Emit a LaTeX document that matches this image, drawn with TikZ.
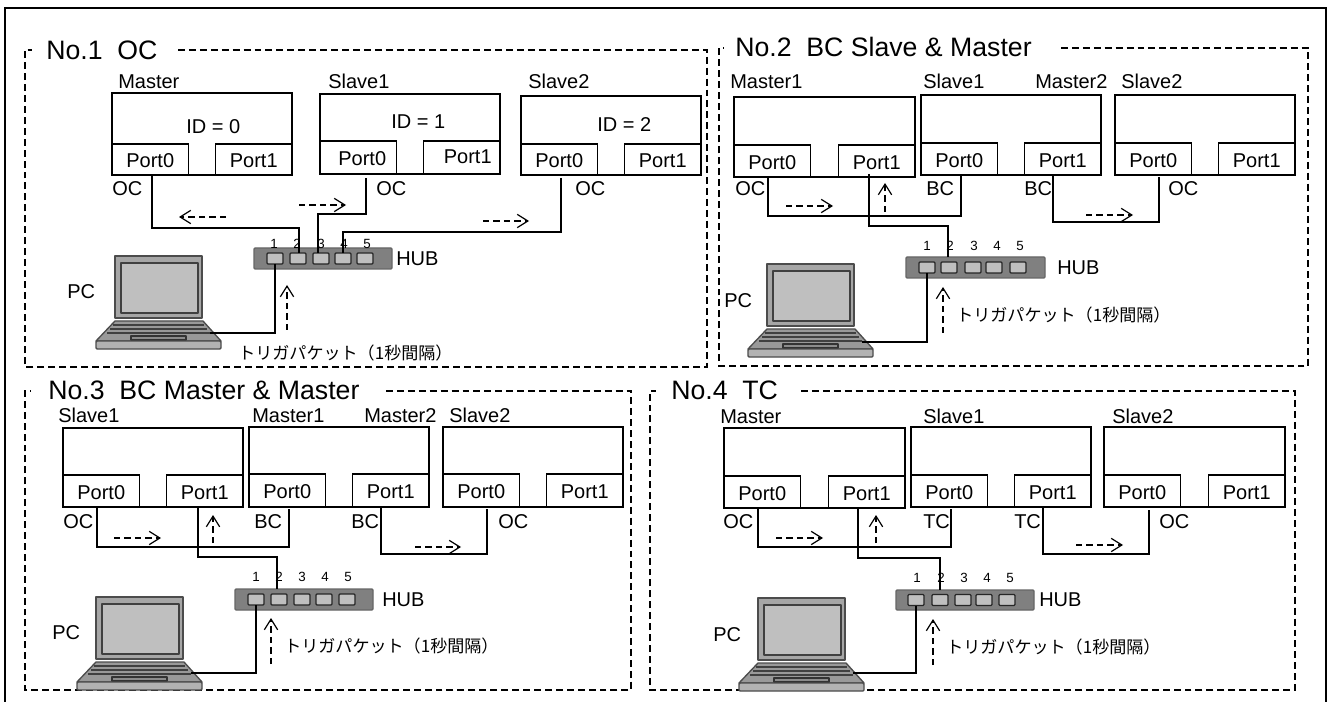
\documentclass[tikz,border=0pt]{standalone}
\usepackage{fontspec}
\setmainfont{Liberation Sans}
\newfontfamily\cjkfont{Noto Sans CJK JP}
\usetikzlibrary{arrows.meta,calc}
\newcounter{lblno}
\tikzset{
  wire/.style={draw=black,line width=1pt},
  frameline/.style={draw=black,line width=1.6pt},
  panelline/.style={draw=black,line width=0.95pt,dash pattern=on 5.2pt off 3pt},
  flow/.style={draw=black,line width=0.9pt,dash pattern=on 4.8pt off 3pt,
    -{Straight Barb[length=8pt,width=10pt,line width=0.9pt]}},
  devbox/.style={draw=black,line width=1pt,anchor=north west,inner sep=0pt,outer sep=0pt},
  portbox/.style={draw=black,line width=1pt,anchor=north west,inner sep=0pt,outer sep=0pt,
    font=\fontsize{15}{15}\selectfont,align=center,text height=12.5pt,text depth=0pt},
  lbl/.style={anchor=base west,inner sep=0pt,font=\fontsize{15}{15}\selectfont},
  paneltitle/.style={anchor=base west,inner sep=0pt,font=\fontsize{20}{20}\selectfont},
  trigger/.style={anchor=west,inner sep=0pt,font=\cjkfont\fontsize{12.8}{12.8}\selectfont},
  hubbody/.style={draw=black!60,fill=black!50,line width=1pt,rounded corners=0.8pt,anchor=north west,inner sep=0pt,outer sep=0pt},
  hubport/.style={draw=black!85,fill=black!25,line width=0.9pt,rounded corners=0.8pt,inner sep=0pt,outer sep=0pt},
  hubnum/.style={inner sep=0pt,font=\fontsize{10}{10}\selectfont},
  lapedge/.style={draw=black!70,line width=1pt,line join=round},
}
% \lbl{x}{y}{text}
\newcommand{\lbl}[3]{\stepcounter{lblno}\node[lbl] (lbl\arabic{lblno}) at (#1,#2) {#3};}
% \device{name}{x1}{x2}{ytop}{yport}{ybot}{port0 text}{port1 text}
\newcommand{\device}[8]{%
  \node[devbox,minimum width={(#3-#2)*0.75pt},minimum height={(#6-#4)*0.75pt}] (#1) at (#2,#4) {};
  \node[portbox,minimum width={76.5*0.75pt},minimum height={(#6-#5)*0.75pt}] (#1p0) at (#2,#5) {#7};
  \node[portbox,minimum width={76.5*0.75pt},minimum height={(#6-#5)*0.75pt}] (#1p1) at ({#3-76.5},#5) {#8};
}
% \hubunit{name}{x1}{x2}{ytop}{ybot}{port centres}{port ycentre}{number xs}{number y}
\newcommand{\hubunit}[9]{%
  \node[hubbody,minimum width={(#3-#2)*0.75pt},minimum height={(#5-#4)*0.75pt}] (#1) at (#2,#4) {};
  \foreach \px [count=\pi] in {#6} {
    \node[hubport,minimum width={16*0.75pt},minimum height={11*0.75pt}] (#1p\pi) at (\px,#7) {};
  }
  \foreach \px [count=\pi] in {#8} {
    \node[hubnum] (#1n\pi) at (\px,#9) {\pi};
  }
}
% \laptop{name}{x}{y}{connector dy}
\newcommand{\laptop}[4]{%
  \begin{scope}[shift={(#2,#3)}]
    \draw[lapedge,fill=black!35] (0,0) rectangle (87,62);
    \draw[lapedge,draw=black!75,fill=black!25] (6,7) rectangle (83,57);
    \draw[lapedge,fill=black!40] (0,65) -- (88,65) -- (106,85) -- (-19,85) -- cycle;
    \draw[draw=black!75,line width=1.7pt] (-2,69) -- (89,69);
    \draw[draw=black!75,line width=1.7pt] (-5,73) -- (92,73);
    \draw[draw=black!75,line width=1.7pt] (-8,77) -- (95,77);
    \draw[lapedge,draw=black!80,fill=black!45] (16,80) rectangle (71,84);
    \draw[lapedge,fill=black!30,rounded corners=0.8pt] (-19,85) rectangle (106,93);
    \coordinate (#1) at (95,#4);
  \end{scope}
}
\begin{document}
\begin{tikzpicture}[x=0.75pt,y=-0.75pt]
\useasboundingbox (0,0) rectangle (1328,702);
\fill[white] (0,0) rectangle (1328,702);
\clip (0,0) rectangle (1328,702);
\draw[frameline] (5,8) rectangle (1326,710);

% ---------- Panel 1
\node[paneltitle] (t1) at (46,60) {No.1\ \ OC};
\draw[panelline] (178,50) -- (707,50) -- (707,367) -- (25,367) -- (25,50) -- (32,50);
\device{a1}{112}{292}{93}{144}{175}{Port0}{Port1}
\device{a2}{320}{500}{94}{141}{174}{\hspace*{6pt}Port0}{\hspace*{9pt}\raisebox{2pt}{Port1}}
\device{a3}{521}{701}{96}{144}{175}{Port0}{Port1}
\lbl{118}{89}{Master}\lbl{328}{89}{Slave1}\lbl{528}{89}{Slave2}
\lbl{186}{134}{ID = 0}\lbl{391}{129}{ID = 1}\lbl{597}{132}{ID = 2}
\lbl{112}{196}{OC}\lbl{376}{196}{OC}\lbl{575}{196}{OC}
\lbl{396}{266}{HUB}\lbl{67}{299}{PC}
\hubunit{h1}{254}{392}{248}{269}{275,298,321,343,365}{258.5}{274,297,321,344,367}{244}
\laptop{pc1}{115}{256}{77}
\draw[wire] (152,0 |- a1p0.south) -- (152,228) -- (299,228) -- (299,0 |- h1p2.north);
\draw[wire] ($(366,0 |- a2p0.south)+(0,4)$) -- (366,214) -- (318,214) -- (318,0 |- h1p3.north);
\draw[wire] ($(561,0 |- a3p0.south)+(0,3)$) -- (561,232) -- (343,232) -- (343,0 |- h1p4.north);
\draw[wire] (h1p1.south) |- (pc1);
\draw[flow] (226,217) -- (179,217);
\draw[flow] (299,205) -- (346,205);
\draw[flow] (483,221) -- (529,221);
\draw[flow] (287,330) -- (287,285);
\node[trigger] (g1) at (238,353) {トリガパケット（1秒間隔）};

% ---------- Panel 2
\node[paneltitle] (t2) at (735,57) {No.2\ \ BC Slave \& Master};
\draw[panelline] (1061,48) -- (1308,48) -- (1308,366) -- (719,366) -- (719,48) -- (724,48);
\device{b1}{734}{915}{97}{145}{177}{Port0}{Port1}
\device{b2}{921}{1101}{95}{143}{175}{Port0}{Port1}
\device{b3}{1115}{1295}{95}{143}{175}{Port0}{Port1}
\lbl{730}{89}{Master1}\lbl{923}{89}{Slave1}\lbl{1035}{89}{Master2}\lbl{1121}{89}{Slave2}
\lbl{735}{196}{OC}\lbl{926}{196}{BC}\lbl{1024}{196}{BC}\lbl{1168}{196}{OC}
\lbl{1057}{275}{HUB}\lbl{724}{308}{PC}
\hubunit{h2}{906}{1045}{257}{278}{927,949,973,994,1018}{267.5}{927,950,974,997,1020}{246}
\laptop{pc2}{767}{264}{78}
\draw[wire] (768,0 |- b1p0.south) -- (768,216) -- (961,216) -- (961,0 |- b2p0.south);
\draw[wire] ($(869,0 |- b1p1.south)+(0,-3)$) -- (869,226) -- (948,226) -- (948,0 |- h2.north);
\draw[wire] (1053,0 |- b2p1.south) -- (1053,222) -- (1159,222) -- ($(1159,0 |- b3p0.south)+(0,2)$);
\draw[wire] (h2p1.south) |- (pc2);
\draw[flow] (786,206) -- (833,206);
\draw[flow] (885,212) -- (885,183);
\draw[flow] (1086,215) -- (1133,215);
\draw[flow] (943,333) -- (943,287);
\node[trigger] (g2) at (956,315) {トリガパケット（1秒間隔）};

% ---------- Panel 3
\node[paneltitle] (t3) at (48,399) {No.3\ \ BC Master \& Master};
\draw[panelline] (386,391) -- (631,391) -- (631,690) -- (25,690) -- (25,391) -- (31,391);
\device{c1}{63}{243}{428}{475}{507}{Port0}{Port1}
\device{c2}{249}{429}{427}{474}{507}{Port0}{Port1}
\device{c3}{443}{623}{427}{474}{507}{Port0}{Port1}
\lbl{58}{422}{Slave1}\lbl{252}{422}{Master1}\lbl{364}{422}{Master2}\lbl{449}{422}{Slave2}
\lbl{63}{528}{OC}\lbl{254}{528}{BC}\lbl{351}{528}{BC}\lbl{498}{528}{OC}
\lbl{382}{606}{HUB}\lbl{52}{639}{PC}
\hubunit{h3}{235}{373}{589}{610}{256,279,302,324,347}{599.5}{256,279,302,325,348}{577}
\laptop{pc3}{96}{597}{76}
\draw[wire] (97,0 |- c1p0.south) -- (97,547) -- (289,547) -- ($(289,0 |- c2p0.south)+(0,2)$);
\draw[wire] (198,0 |- c1p1.south) -- (198,557) -- (277,557) -- (277,0 |- h3.north);
\draw[wire] (381,0 |- c2p1.south) -- (381,554) -- (487,554) -- ($(487,0 |- c3p0.south)+(0,2)$);
\draw[wire] (h3p1.south) |- (pc3);
\draw[flow] (114,538) -- (161,538);
\draw[flow] (213,543) -- (213,515);
\draw[flow] (415,547) -- (461,547);
\draw[flow] (271,664) -- (271,618);
\node[trigger] (g3) at (284,646) {トリガパケット（1秒間隔）};

% ---------- Panel 4
\node[paneltitle] (t4) at (671,399) {No.4\ \ TC};
\draw[panelline] (801,391) -- (1295,391) -- (1295,690) -- (650,690) -- (650,391) -- (656,391);
\device{d1}{724}{905}{428}{476}{508}{Port0}{Port1}
\device{d2}{911}{1091}{427}{475}{507}{Port0}{Port1}
\device{d3}{1104}{1285}{427}{475}{507}{Port0}{Port1}
\lbl{720}{423}{Master}\lbl{923}{423}{Slave1}\lbl{1112}{423}{Slave2}
\lbl{723}{528}{OC}\lbl{923}{528}{TC}\lbl{1014}{528}{TC}\lbl{1159}{528}{OC}
\lbl{1039}{606}{HUB}\lbl{713}{641}{PC}
\hubunit{h4}{896}{1034}{590}{610}{916,940,963,984,1007}{600}{917,941,964,987,1010}{578}
\laptop{pc4}{758}{598}{75}
\draw[wire] (758,0 |- d1p0.south) -- (758,547) -- (951,547) -- ($(951,0 |- d2p0.south)+(0,2)$);
\draw[wire] (858,0 |- d1p1.south) -- (858,558) -- (940,558) -- (940,0 |- h4.north);
\draw[wire] (1043,0 |- d2p1.south) -- (1043,554) -- (1149,554) -- ($(1149,0 |- d3p0.south)+(0,3)$);
\draw[wire] (h4p1.south) |- (pc4);
\draw[flow] (776,538) -- (823,538);
\draw[flow] (876,543) -- (876,515);
\draw[flow] (1076,545) -- (1123,545);
\draw[flow] (933,665) -- (933,619);
\node[trigger] (g4) at (946,647) {トリガパケット（1秒間隔）};
\end{tikzpicture}
\end{document}
